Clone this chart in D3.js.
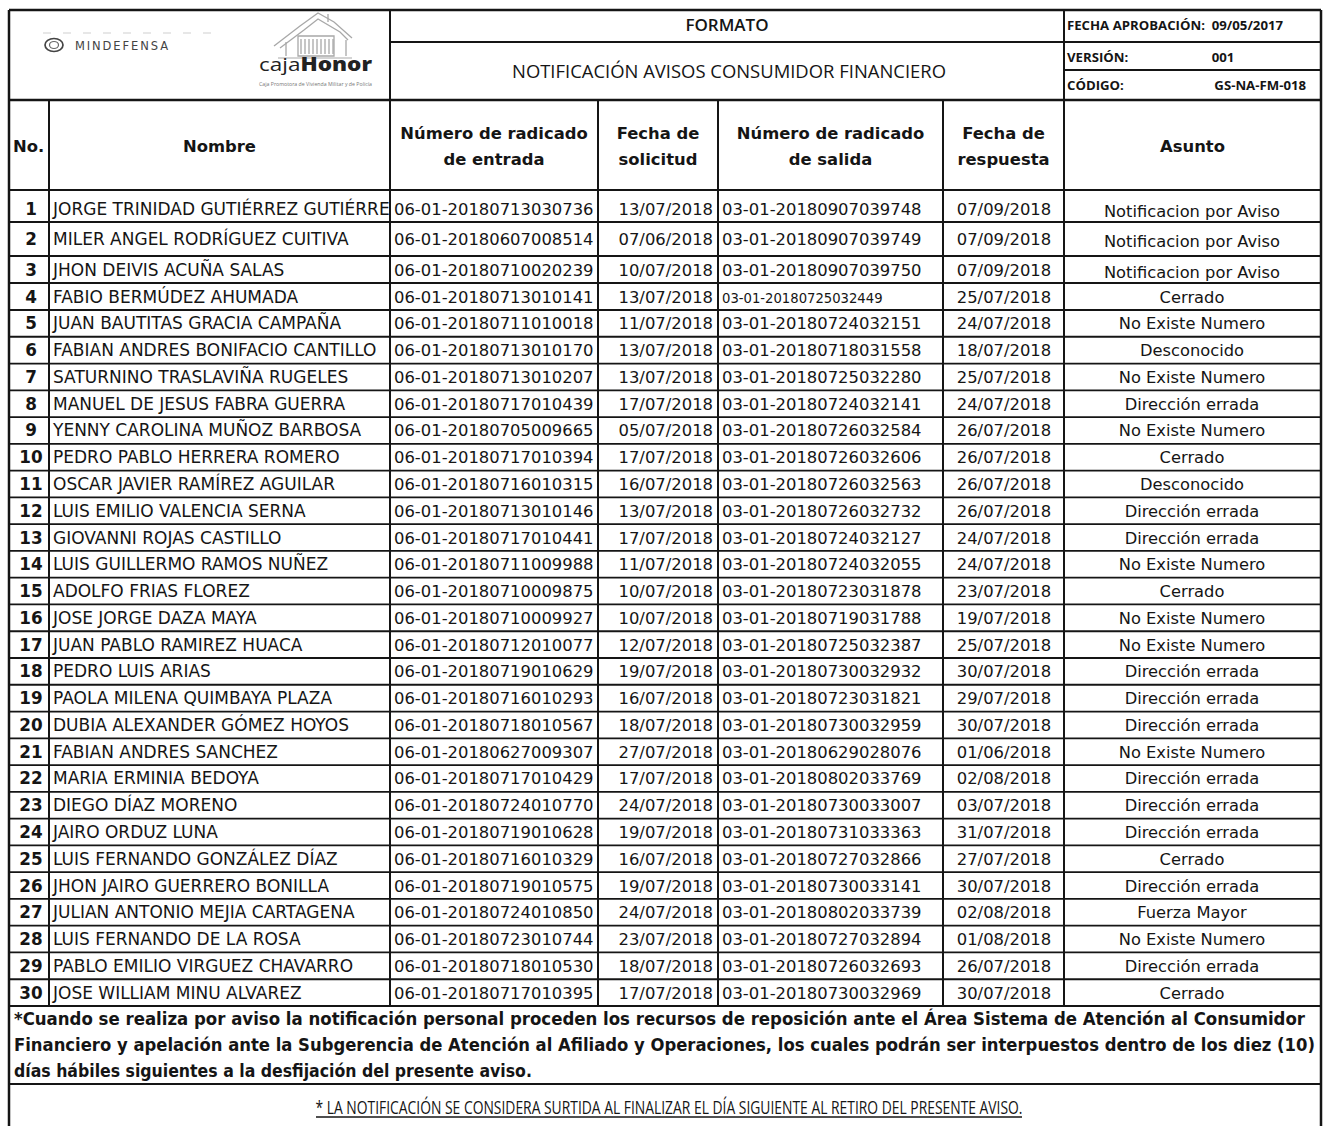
<!DOCTYPE html>
<html><head><meta charset="utf-8">
<script src="https://cdn.jsdelivr.net/npm/d3@7"></script>
<style>body{margin:0;background:#fff}svg{display:block}</style>
</head><body>
<svg id="c" width="1327" height="1126"></svg>
<script>
// ---------- DATA ----------
const numeros = [1,2,3,4,5,6,7,8,9,10,11,12,13,14,15,16,17,18,19,20,21,22,23,24,25,26,27,28,29,30];
const nombres = [
"JORGE TRINIDAD GUTIÉRREZ GUTIÉRREZ","MILER ANGEL RODRÍGUEZ CUITIVA","JHON DEIVIS ACUÑA SALAS","FABIO BERMÚDEZ AHUMADA",
"JUAN BAUTITAS GRACIA CAMPAÑA","FABIAN ANDRES BONIFACIO CANTILLO","SATURNINO TRASLAVIÑA RUGELES","MANUEL DE JESUS FABRA GUERRA",
"YENNY CAROLINA MUÑOZ BARBOSA","PEDRO PABLO HERRERA ROMERO","OSCAR JAVIER RAMÍREZ AGUILAR","LUIS EMILIO VALENCIA SERNA",
"GIOVANNI ROJAS CASTILLO","LUIS GUILLERMO RAMOS NUÑEZ","ADOLFO FRIAS FLOREZ","JOSE JORGE DAZA MAYA",
"JUAN PABLO RAMIREZ HUACA","PEDRO LUIS ARIAS","PAOLA MILENA QUIMBAYA PLAZA","DUBIA ALEXANDER GÓMEZ HOYOS",
"FABIAN ANDRES SANCHEZ","MARIA ERMINIA BEDOYA","DIEGO DÍAZ MORENO","JAIRO ORDUZ LUNA",
"LUIS FERNANDO GONZÁLEZ DÍAZ","JHON JAIRO GUERRERO BONILLA","JULIAN ANTONIO MEJIA CARTAGENA","LUIS FERNANDO DE LA ROSA",
"PABLO EMILIO VIRGUEZ CHAVARRO","JOSE WILLIAM MINU ALVAREZ"];
const radicadoEntrada = [
"06-01-20180713030736","06-01-20180607008514","06-01-20180710020239","06-01-20180713010141","06-01-20180711010018",
"06-01-20180713010170","06-01-20180713010207","06-01-20180717010439","06-01-20180705009665","06-01-20180717010394",
"06-01-20180716010315","06-01-20180713010146","06-01-20180717010441","06-01-20180711009988","06-01-20180710009875",
"06-01-20180710009927","06-01-20180712010077","06-01-20180719010629","06-01-20180716010293","06-01-20180718010567",
"06-01-20180627009307","06-01-20180717010429","06-01-20180724010770","06-01-20180719010628","06-01-20180716010329",
"06-01-20180719010575","06-01-20180724010850","06-01-20180723010744","06-01-20180718010530","06-01-20180717010395"];
const fechaSolicitud = [
"13/07/2018","07/06/2018","10/07/2018","13/07/2018","11/07/2018","13/07/2018","13/07/2018","17/07/2018","05/07/2018","17/07/2018",
"16/07/2018","13/07/2018","17/07/2018","11/07/2018","10/07/2018","10/07/2018","12/07/2018","19/07/2018","16/07/2018","18/07/2018",
"27/07/2018","17/07/2018","24/07/2018","19/07/2018","16/07/2018","19/07/2018","24/07/2018","23/07/2018","18/07/2018","17/07/2018"];
const radicadoSalida = [
"03-01-20180907039748","03-01-20180907039749","03-01-20180907039750","03-01-20180725032449","03-01-20180724032151",
"03-01-20180718031558","03-01-20180725032280","03-01-20180724032141","03-01-20180726032584","03-01-20180726032606",
"03-01-20180726032563","03-01-20180726032732","03-01-20180724032127","03-01-20180724032055","03-01-20180723031878",
"03-01-20180719031788","03-01-20180725032387","03-01-20180730032932","03-01-20180723031821","03-01-20180730032959",
"03-01-20180629028076","03-01-20180802033769","03-01-20180730033007","03-01-20180731033363","03-01-20180727032866",
"03-01-20180730033141","03-01-20180802033739","03-01-20180727032894","03-01-20180726032693","03-01-20180730032969"];
const fechaRespuesta = [
"07/09/2018","07/09/2018","07/09/2018","25/07/2018","24/07/2018","18/07/2018","25/07/2018","24/07/2018","26/07/2018","26/07/2018",
"26/07/2018","26/07/2018","24/07/2018","24/07/2018","23/07/2018","19/07/2018","25/07/2018","30/07/2018","29/07/2018","30/07/2018",
"01/06/2018","02/08/2018","03/07/2018","31/07/2018","27/07/2018","30/07/2018","02/08/2018","01/08/2018","26/07/2018","30/07/2018"];
const asuntos = [
"Notificacion por Aviso","Notificacion por Aviso","Notificacion por Aviso","Cerrado","No Existe Numero","Desconocido",
"No Existe Numero","Dirección errada","No Existe Numero","Cerrado","Desconocido","Dirección errada","Dirección errada",
"No Existe Numero","Cerrado","No Existe Numero","No Existe Numero","Dirección errada","Dirección errada","Dirección errada",
"No Existe Numero","Dirección errada","Dirección errada","Dirección errada","Cerrado","Dirección errada","Fuerza Mayor",
"No Existe Numero","Dirección errada","Cerrado"];
const encabezados = [["No."],["Nombre"],["Número de radicado","de entrada"],["Fecha de","solicitud"],["Número de radicado","de salida"],["Fecha de","respuesta"],["Asunto"]];
const tituloFormato = "FORMATO";
const tituloDoc = "NOTIFICACIÓN AVISOS CONSUMIDOR FINANCIERO";
const metaEtiquetas = ["FECHA APROBACIÓN:","VERSIÓN:","CÓDIGO:"];
const metaValores = ["09/05/2017","001","GS-NA-FM-018"];
const notaLineas = [
"*Cuando se realiza por aviso la notificación personal proceden los recursos de reposición ante el Área Sistema de Atención al Consumidor",
"Financiero y apelación ante la Subgerencia de Atención al Afiliado y Operaciones, los cuales podrán ser interpuestos dentro de los diez (10)",
"días hábiles siguientes a la desfijación del presente aviso."];
const notaFinal = "* LA NOTIFICACIÓN SE CONSIDERA SURTIDA AL FINALIZAR EL DÍA SIGUIENTE AL RETIRO DEL PRESENTE AVISO.";

// ---------- LAYOUT ----------
const svg = d3.select("#c");
const defs = svg.append("defs");
const INK = "#151515";
const colEdges = [9, 49, 390, 598, 718, 943, 1064, 1321];
const L = colEdges[0], R = colEdges[colEdges.length-1];
const rowY = d3.scaleLinear().domain([0,1,2,3,4,30]).range([190,222,256,283,310,1006]);
const F = "'DejaVu Sans', Verdana, sans-serif";
const FC = "'DejaVu Sans Condensed', 'DejaVu Sans', sans-serif";
const FO = "'Open Sans', 'Noto Sans', sans-serif";

const lines = svg.append("g").attr("stroke", INK).attr("stroke-width", 2).attr("fill","none");
function hl(x1,x2,y,w){lines.append("line").attr("x1",x1).attr("x2",x2).attr("y1",y).attr("y2",y).attr("stroke-width",w||2);}
function vl(x,y1,y2,w){lines.append("line").attr("x1",x).attr("x2",x).attr("y1",y1).attr("y2",y2).attr("stroke-width",w||2);}

// header block
hl(L,R,10,2.5); hl(390,R,42); hl(1064,R,70); hl(L,R,100,2.5);
vl(L,10,1130,2.5); vl(R,10,1130,2.5); vl(390,10,100); vl(1064,10,100);
// column header + body grid
hl(L,R,rowY(0));
numeros.forEach((d,i)=>hl(L,R,rowY(i+1), 1.8));
colEdges.slice(1,-1).forEach(x=>vl(x,100,rowY(30)));
hl(L,R,1084);

// logos
const logo = svg.append("g");
logo.append("line").attr("x1",43).attr("x2",223).attr("y1",33).attr("y2",33).attr("stroke","#cfcfcf").attr("stroke-dasharray","8,12");
logo.append("ellipse").attr("cx",54).attr("cy",45).attr("rx",9).attr("ry",6.5).attr("fill","none").attr("stroke","#444").attr("stroke-width",1.7);
logo.append("ellipse").attr("cx",54).attr("cy",45).attr("rx",4.5).attr("ry",3.5).attr("fill","none").attr("stroke","#666").attr("stroke-width",1.2);
logo.append("text").attr("x",75).attr("y",50).attr("font-family",F).attr("font-size",11.5).attr("textLength",93).attr("lengthAdjust","spacing").attr("fill","#444").text("MINDEFENSA");
const house = logo.append("g").attr("stroke","#a8a8a8").attr("fill","none").attr("stroke-width",1.3);
house.append("path").attr("d","M274,46 L300,26 L318,13 L334,22 L352,38");
house.append("path").attr("d","M280,48 L304,30 L318,19 L340,32 L348,40");
house.append("path").attr("d","M286,56 L286,42 M346,56 L346,40 M328,14 L328,22");
house.append("path").attr("d","M298,56 L298,36 L334,36 L334,56 Z");
d3.range(301,334,4).forEach(x=>house.append("line").attr("x1",x).attr("x2",x).attr("y1",39).attr("y2",54));
house.append("path").attr("d","M278,58 L352,58").attr("stroke","#c6c6c6");
const cj = logo.append("text").attr("x",259).attr("y",71).attr("font-family",FO).attr("font-size",19).attr("textLength",113).attr("lengthAdjust","spacingAndGlyphs").attr("fill","#222");
cj.append("tspan").text("caja");
cj.append("tspan").attr("font-weight",800).text("Honor");
logo.append("text").attr("x",259).attr("y",86).attr("font-family",FO).attr("font-size",4.5).attr("fill","#777").attr("textLength",113).attr("lengthAdjust","spacingAndGlyphs").text("Caja Promotora de Vivienda Militar y de Policía");

// titles
const ttl = svg.append("g").attr("font-family",FO).attr("fill",INK).attr("text-anchor","middle");
ttl.append("text").attr("x",727).attr("y",31).attr("font-size",17).attr("font-weight",600).text(tituloFormato);
ttl.append("text").attr("x",729).attr("y",78).attr("font-size",17.5).attr("textLength",434).attr("lengthAdjust","spacingAndGlyphs").text(tituloDoc);

// meta box
const meta = svg.append("g").attr("font-family",FO).attr("font-weight",700).attr("font-size",13.2).attr("fill",INK);
const metaY = [30, 62, 90];
metaEtiquetas.forEach((t,i)=>meta.append("text").attr("x",1067).attr("y",metaY[i]).text(t));
meta.append("text").attr("x",1283).attr("y",metaY[0]).attr("text-anchor","end").text(metaValores[0]);
meta.append("text").attr("x",1223).attr("y",metaY[1]).attr("text-anchor","middle").text(metaValores[1]);
meta.append("text").attr("x",1306).attr("y",metaY[2]).attr("text-anchor","end").text(metaValores[2]);

// column headers
const hdr = svg.append("g").attr("font-family",F).attr("font-weight",700).attr("font-size",16.4).attr("fill",INK);
encabezados.forEach((lbl,c)=>{
  const x0 = colEdges[c], x1 = colEdges[c+1];
  const t = hdr.append("text").attr("text-anchor", c===0?"start":"middle").attr("x", c===0? x0+4 : (x0+x1)/2);
  if (lbl.length===1) t.attr("y",152).text(lbl[0]);
  else lbl.forEach((s,k)=>t.append("tspan").attr("x",(x0+x1)/2).attr("y",139+k*26).text(s));
});

// body
const body = svg.append("g").attr("font-family",F).attr("font-size",16.4).attr("fill",INK);
const rows = body.selectAll("g.r").data(numeros).join("g").attr("class","r")
  .attr("transform",(d,i)=>`translate(0,${(rowY(i)+rowY(i+1))/2 + 6 + (i===0?3:0)})`);
rows.each(function(d,i){
  const cp = defs.append("clipPath").attr("id","nc"+i);
  cp.append("rect").attr("x",colEdges[1]).attr("y",-30).attr("width",colEdges[2]-colEdges[1]-1).attr("height",60);
});
rows.append("text").attr("x",31).attr("text-anchor","middle").attr("font-weight",700).attr("font-size",16.8).text(d=>d);
rows.append("text").attr("x",53).attr("font-size",17).attr("clip-path",(d,i)=>`url(#nc${i})`).text((d,i)=>nombres[i]);
rows.append("text").attr("x",394).text((d,i)=>radicadoEntrada[i]);
rows.append("text").attr("x",713).attr("text-anchor","end").text((d,i)=>fechaSolicitud[i]);
rows.append("text").attr("x",722).attr("font-size",(d,i)=>i===3?13.2:null).text((d,i)=>radicadoSalida[i]);
rows.append("text").attr("x",1004).attr("text-anchor","middle").text((d,i)=>fechaRespuesta[i]);
rows.append("text").attr("x",1192).attr("text-anchor","middle").attr("font-size",16.3).attr("dy",(d,i)=>i<3?2:0).text((d,i)=>asuntos[i]);

// notes
const nota = svg.append("g").attr("font-family",FC).attr("font-weight",700).attr("font-size",17.5).attr("fill",INK);
const notaW = [1291, 1301, null];
notaLineas.forEach((s,i)=>{
  const t = nota.append("text").attr("x",14).attr("y",1025+i*26).text(s);
  if (notaW[i]) t.attr("textLength",notaW[i]).attr("lengthAdjust","spacingAndGlyphs");
});
const nf = svg.append("g").attr("font-family",FO).attr("font-size",17.5).attr("fill",INK);
nf.append("text").attr("x",669).attr("y",1114).attr("text-anchor","middle").attr("textLength",707).attr("lengthAdjust","spacingAndGlyphs").text(notaFinal);
nf.append("line").attr("x1",316).attr("x2",1022).attr("y1",1117).attr("y2",1117).attr("stroke",INK).attr("stroke-width",1.4);
</script>
</body></html>
